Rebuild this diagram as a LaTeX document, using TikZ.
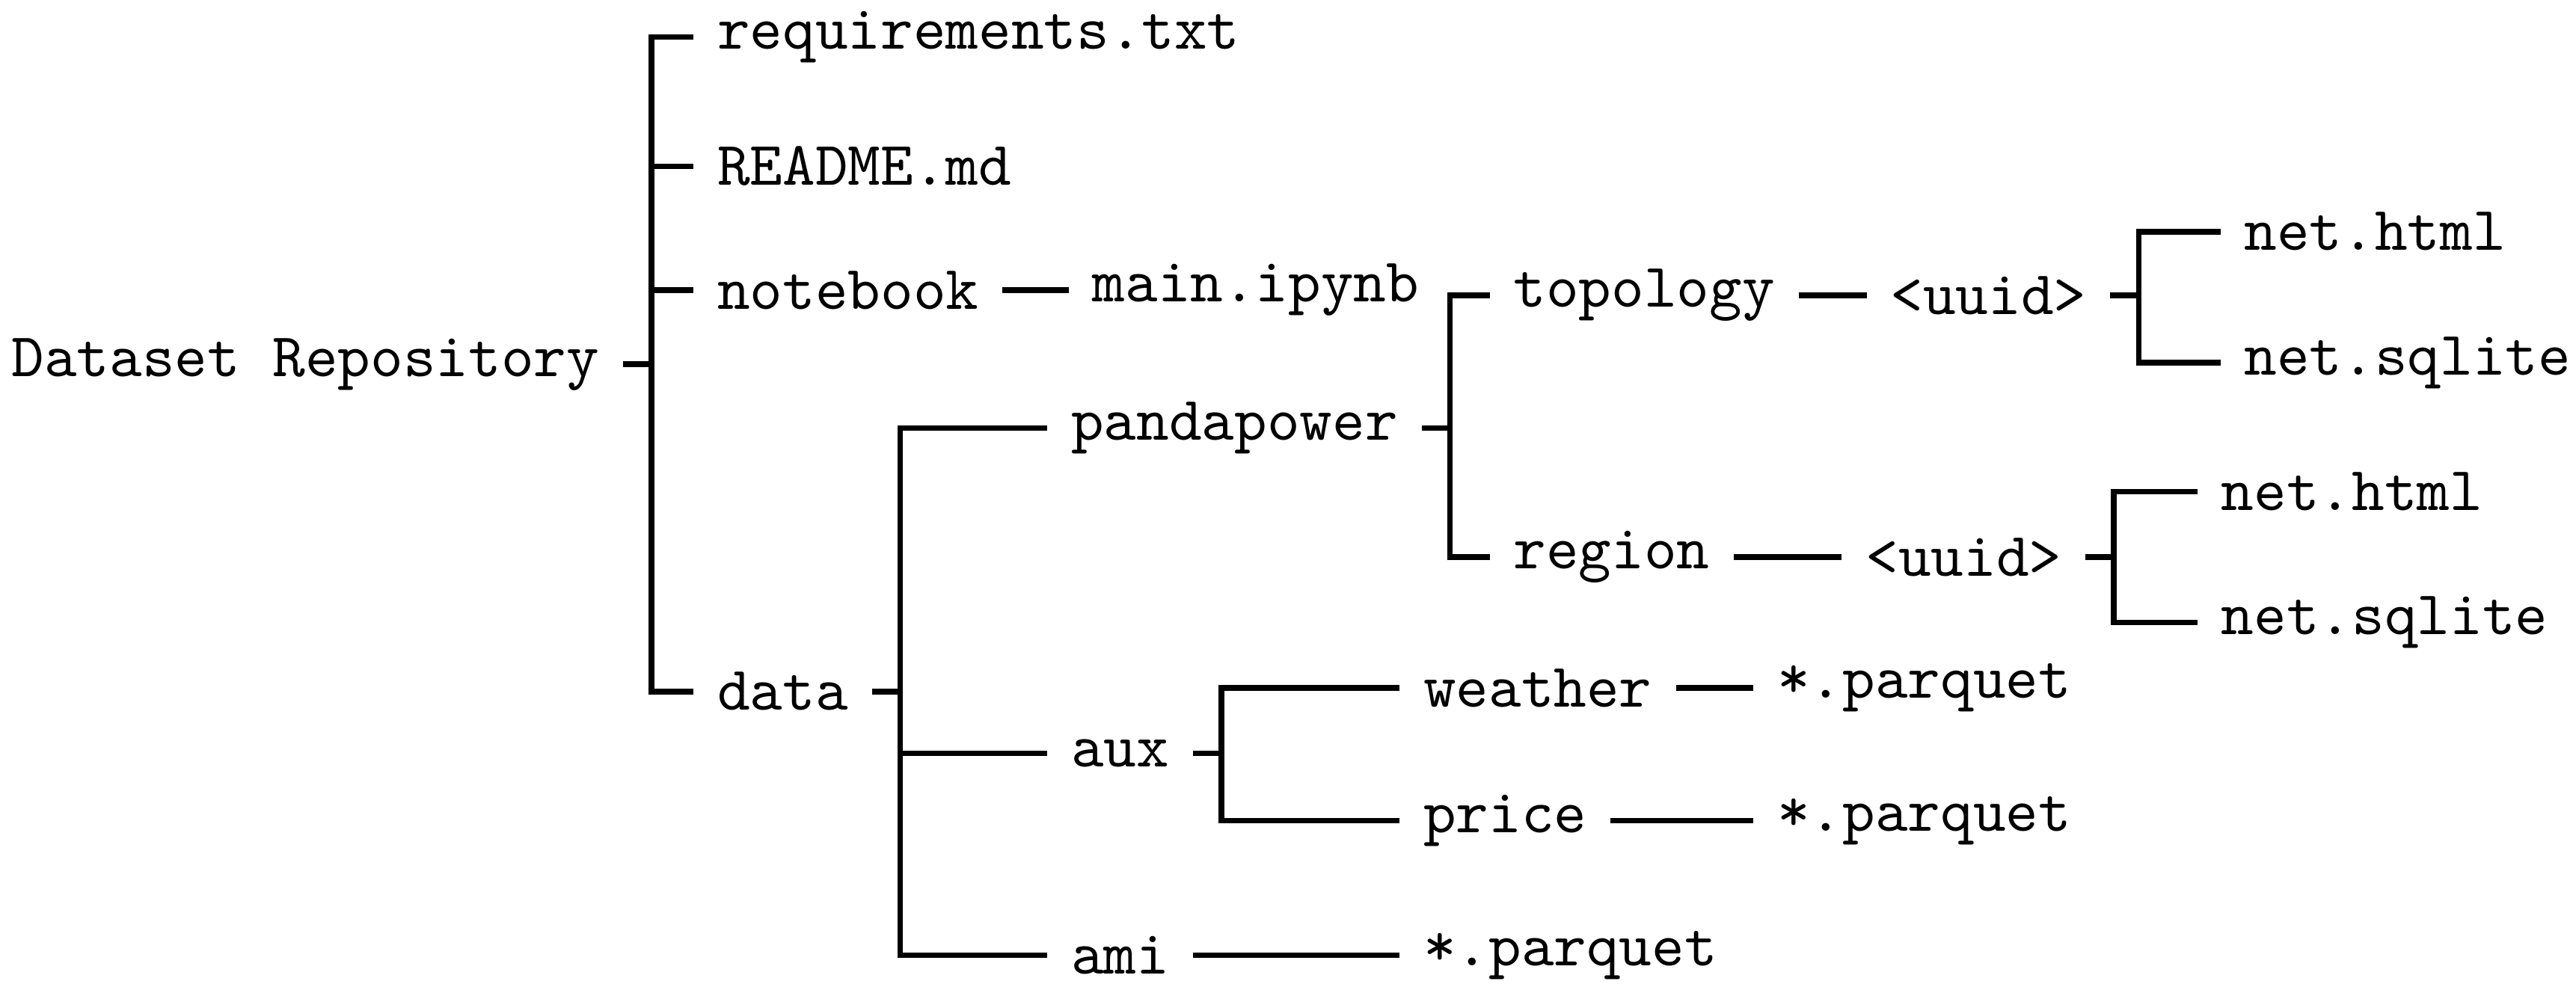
\documentclass[tikz,border=0pt]{standalone}
\usepackage{tikz}

\begin{document}
\begin{tikzpicture}[x=1cm,y=1cm,line width=0.9pt,
        every node/.style={font=\ttfamily,anchor=west,inner xsep=3.4pt}]
                \useasboundingbox (0,0) rectangle (14.56,5.58);

                \node (root) at (-0.07,3.52) {Dataset Repository};

                \node (req) at (3.92,5.37) {requirements.txt};
                \node (readme) at (3.92,4.64) {README.md};
                \node (notebook) at (3.92,3.94) {notebook};
                \node (data) at (3.92,1.67) {data};
                \node (main) at (6.04,3.94) {main.ipynb};

                \node (pandapower) at (5.92,3.16) {pandapower};
                \node (aux) at (5.92,1.32) {aux};
                \node (ami) at (5.92,0.18) {ami};

                \node (topology) at (8.42,3.91) {topology};
                \node (region) at (8.42,2.43) {region};
                \node (uuidA) at (10.55,3.91) {<uuid>};
                \node (uuidB) at (10.41,2.43) {<uuid>};
                \node (htmlA) at (12.55,4.27) {net.html};
                \node (sqliteA) at (12.55,3.53) {net.sqlite};
                \node (htmlB) at (12.42,2.80) {net.html};
                \node (sqliteB) at (12.42,2.06) {net.sqlite};

                \node (weather) at (7.91,1.69) {weather};
                \node (price) at (7.91,0.94) {price};
                \node (pqA) at (9.91,1.69) {*.parquet};
                \node (pqB) at (9.91,0.94) {*.parquet};
                \node (pqC) at (7.91,0.18) {*.parquet};

                % forks
                \draw (root.east) -- ++(0.16,0) coordinate (froot);
                \foreach \c in {req,readme,notebook,data}
                    \draw (froot) |- (\c.west);
                \draw (data.east) -- ++(0.16,0) coordinate (fdata);
                \foreach \c in {pandapower,aux,ami}
                    \draw (fdata) |- (\c.west);
                \draw (pandapower.east) -- ++(0.16,0) coordinate (fpp);
                \foreach \c in {topology,region}
                    \draw (fpp) |- (\c.west);
                \draw (aux.east) -- ++(0.16,0) coordinate (faux);
                \foreach \c in {weather,price}
                    \draw (faux) |- (\c.west);
                \draw (uuidA.east) -- ++(0.16,0) coordinate (fuA);
                \foreach \c in {htmlA,sqliteA}
                    \draw (fuA) |- (\c.west);
                \draw (uuidB.east) -- ++(0.16,0) coordinate (fuB);
                \foreach \c in {htmlB,sqliteB}
                    \draw (fuB) |- (\c.west);

                % single children
                \draw (notebook) -- (main);
                \draw (topology) -- (uuidA);
                \draw (region) -- (uuidB);
                \draw (weather) -- (pqA);
                \draw (price) -- (pqB);
                \draw (ami) -- (pqC);
            \end{tikzpicture}
\end{document}
